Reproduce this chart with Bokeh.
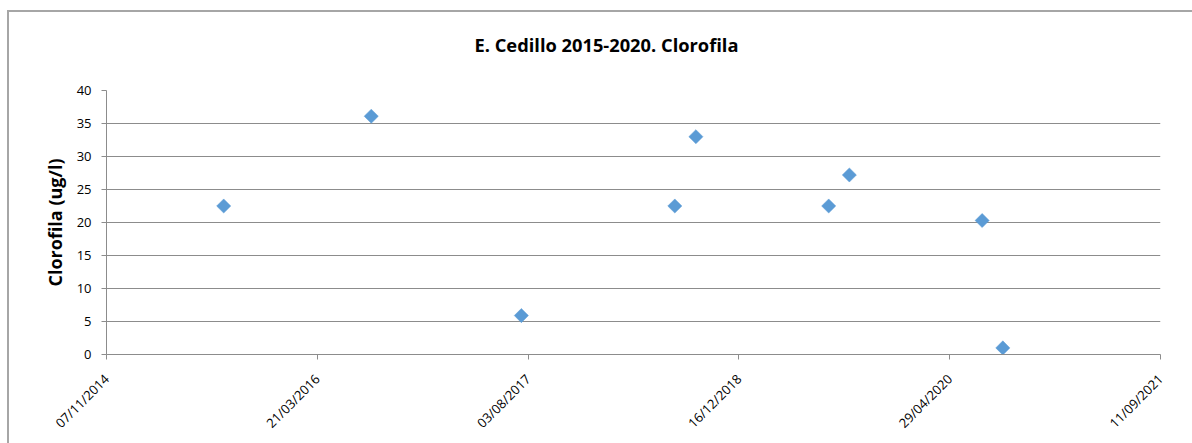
from datetime import datetime

from bokeh.embed import file_html
from bokeh.models import (ColumnDataSource, DatetimeTickFormatter, FixedTicker,
                          GlobalInlineStyleSheet, Range1d, Title)
from bokeh.plotting import figure
from bokeh.resources import INLINE

# Sampling dates and chlorophyll values (ug/l)
sample_dates = ["2015-08-12", "2016-07-27", "2017-07-18", "2018-07-17", "2018-09-05",
                "2019-07-17", "2019-09-04", "2020-07-15", "2020-09-02"]
clorofila = [22.5, 36.1, 5.9, 22.5, 33.0, 22.5, 27.2, 20.3, 1.0]

# Axis ticks
x_tick_dates = ["2014-11-07", "2016-03-21", "2017-08-03", "2018-12-16", "2020-04-29", "2021-09-11"]
x_tick_labels = ["07/11/2014", "21/03/2016", "03/08/2017", "16/12/2018", "29/04/2020", "11/09/2021"]
y_ticks = [0, 5, 10, 15, 20, 25, 30, 35, 40]


def to_ms(s):
    d = datetime.strptime(s, "%Y-%m-%d")
    return (d - datetime(1970, 1, 1)).total_seconds() * 1000.0


xs = [to_ms(d) for d in sample_dates]
tick_ms = [to_ms(d) for d in x_tick_dates]

source = ColumnDataSource(data=dict(x=xs, y=clorofila))

W, H = 1192, 443
p = figure(width=W, height=H, output_backend="svg", toolbar_location=None,
           x_axis_type="datetime",
           x_range=Range1d(tick_ms[0], tick_ms[-1]),
           y_range=Range1d(y_ticks[0], y_ticks[-1]),
           min_border_left=106, min_border_right=32,
           min_border_top=90, min_border_bottom=89,
           background_fill_color="white", border_fill_color="white")
p.outline_line_color = None

# Page styling: no margins/scrollbars; the chart-area frame is drawn as
# two thin strips (left edge and top edge)
page_css = """
html, body { margin: 0; padding: 0; overflow: hidden; background: white; }
body::before {
  content: ""; position: fixed; left: 7px; top: 10px;
  width: 2px; height: 433px; background: #a6a6a6;
  pointer-events: none; z-index: 10;
}
body::after {
  content: ""; position: fixed; left: 7px; top: 10px;
  width: 1185px; height: 2px; background: #a6a6a6;
  pointer-events: none; z-index: 10;
}
"""
p.stylesheets = [GlobalInlineStyleSheet(css=page_css)]

FONT = "Open Sans"
GRID = "#8c8c8c"

# Chart title with an empty spacer panel between it and the plot area
p.title = Title(text="E. Cedillo 2015-2020. Clorofila", align="left", offset=368,
                standoff=0, text_font=FONT, text_font_size="18.3px",
                text_font_style="bold", text_color="#000000")
p.add_layout(Title(text=" ", text_font_size="1px", standoff=31), "above")

# X axis
xa = p.xaxis[0]
xa.ticker = FixedTicker(ticks=tick_ms)
xa.formatter = DatetimeTickFormatter(days="%d/%m/%Y", months="%d/%m/%Y", years="%d/%m/%Y")
xa.major_label_overrides = {t: lab for t, lab in zip(tick_ms, x_tick_labels)}
xa.major_label_orientation = 0.785398
xa.axis_line_color = GRID
xa.major_tick_line_color = GRID
xa.major_tick_out = 5
xa.major_tick_in = 0
xa.minor_tick_line_color = None
xa.major_label_text_font = FONT
xa.major_label_text_font_size = "13px"
xa.major_label_text_color = "#000000"
xa.major_label_standoff = 17

# Y axis
ya = p.yaxis[0]
ya.ticker = FixedTicker(ticks=y_ticks)
ya.axis_line_color = GRID
ya.major_tick_line_color = GRID
ya.major_tick_out = 5
ya.major_tick_in = 0
ya.minor_tick_line_color = None
ya.major_label_text_font = FONT
ya.major_label_text_font_size = "13px"
ya.major_label_text_color = "#000000"
ya.major_label_standoff = 10
ya.axis_label = "Clorofila (ug/l)"
ya.axis_label_text_font = FONT
ya.axis_label_text_font_size = "18px"
ya.axis_label_text_font_style = "bold"
ya.axis_label_text_color = "#000000"
ya.axis_label_standoff = 7

# Grid
p.xgrid.grid_line_color = None
p.ygrid.ticker = FixedTicker(ticks=y_ticks)
p.ygrid.grid_line_color = GRID
p.ygrid.grid_line_width = 1

# Data points (diamonds)
p.scatter("x", "y", source=source, marker="square", angle=0.785398, size=10,
          fill_color="#5b9bd5", line_color="#5b9bd5", line_width=0.5)

open("out.html", "w").write(file_html(p, INLINE))
